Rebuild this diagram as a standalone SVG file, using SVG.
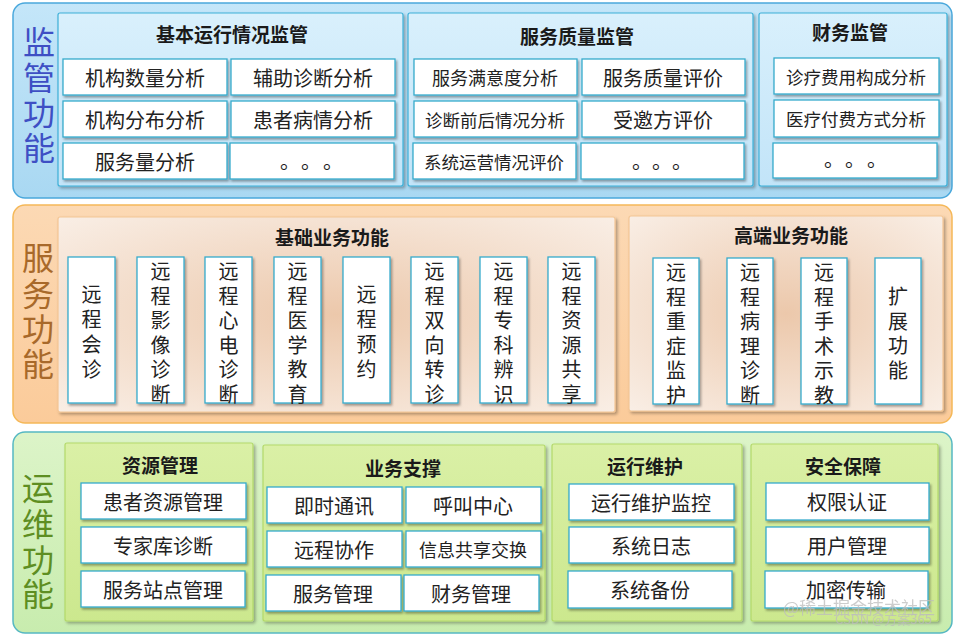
<svg xmlns="http://www.w3.org/2000/svg" width="963" height="636" viewBox="0 0 963 636">
<defs>
<linearGradient id="gBlueBand" x1="0" y1="0" x2="0" y2="1"><stop offset="0" stop-color="#c4e6f9"/><stop offset="1" stop-color="#a9d8f2"/></linearGradient>
<linearGradient id="gBluePanel" x1="0" y1="0" x2="0" y2="1"><stop offset="0" stop-color="#d9f0fc"/><stop offset="1" stop-color="#c2e4f8"/></linearGradient>
<linearGradient id="gOrangeBand" x1="0" y1="0" x2="0" y2="1"><stop offset="0" stop-color="#fcd9b4"/><stop offset="1" stop-color="#fbcb9a"/></linearGradient>
<radialGradient id="gOrangePanel" cx="0.5" cy="0.5" r="0.7"><stop offset="0" stop-color="#ecc8ab"/><stop offset="1" stop-color="#f9eee5"/></radialGradient>
<linearGradient id="gGreenBand" x1="0" y1="0" x2="0" y2="1"><stop offset="0" stop-color="#dcf4c8"/><stop offset="1" stop-color="#c8ecae"/></linearGradient>
<linearGradient id="gGreenPanel" x1="0" y1="0" x2="0" y2="1"><stop offset="0" stop-color="#daf0a6"/><stop offset="1" stop-color="#cce88e"/></linearGradient>
<filter id="sh" x="-10%" y="-10%" width="130%" height="140%"><feDropShadow dx="1.5" dy="2" stdDeviation="1.2" flood-color="#000" flood-opacity="0.35"/></filter>
<filter id="shp" x="-5%" y="-5%" width="115%" height="115%"><feDropShadow dx="2" dy="2" stdDeviation="1.5" flood-color="#000" flood-opacity="0.3"/></filter>
</defs>
<style>
text{font-family:"Noto Sans CJK SC","Noto Sans",sans-serif;dominant-baseline:central;text-anchor:middle;fill:#222}
.box{fill:#fff;stroke:#36abcc;stroke-width:1.3;filter:url(#sh)}
.bandB{fill:url(#gBlueBand);stroke:#4aa8dc;stroke-width:1.5}
.bandO{fill:url(#gOrangeBand);stroke:#f5b858;stroke-width:1.5}
.bandG{fill:url(#gGreenBand);stroke:#56b8c2;stroke-width:1.5}
.pB{fill:url(#gBluePanel);stroke:#3cb0d8;stroke-width:1.2;filter:url(#shp)}
.pO{fill:url(#gOrangePanel);stroke:#f3c594;stroke-width:1.2;filter:url(#shp)}
.pG{fill:url(#gGreenPanel);stroke:#b3d96a;stroke-width:1.2;filter:url(#shp)}
.t{font-size:19px;font-weight:bold;fill:#1a1a1a}
.b20{font-size:20px}
.b18{font-size:18px}
.b17{font-size:17.5px}
.dots{font-size:20px;text-anchor:start;text-spacing-trim:space-all}
.v{font-size:20px}
.lab{font-size:32px}
.labB{fill:#3e4fc4}
.labO{fill:#a8692a}
.labG{fill:#5e8e22}
.wm{fill:#bdbdbd;opacity:0.75;text-anchor:start}
</style>

<!-- ========== Band 1: 监管功能 ========== -->
<g id="band-supervision">
<rect class="bandB" x="13" y="3" width="939" height="195" rx="12"/>
<text class="lab labB"><tspan x="39" y="40">监</tspan><tspan x="39" y="76">管</tspan><tspan x="39" y="111">功</tspan><tspan x="39" y="146">能</tspan></text>
</g>

<g id="panel-basic-ops">
<rect class="pB" x="58" y="13" width="345" height="173" rx="2"/>
<text class="t" x="232" y="33">基本运行情况监管</text>
<rect class="box" x="63" y="59" width="164" height="36"/><text class="b20" x="145" y="77">机构数量分析</text>
<rect class="box" x="231" y="59" width="164" height="36"/><text class="b20" x="313" y="77">辅助诊断分析</text>
<rect class="box" x="63" y="101" width="164" height="36"/><text class="b20" x="145" y="119">机构分布分析</text>
<rect class="box" x="231" y="101" width="164" height="36"/><text class="b20" x="313" y="119">患者病情分析</text>
<rect class="box" x="63" y="143" width="164" height="36"/><text class="b20" x="145" y="161">服务量分析</text>
<rect class="box" x="230" y="143" width="164" height="36"/><text class="dots" y="160"><tspan x="280">。</tspan><tspan x="301">。</tspan><tspan x="323">。</tspan></text>
</g>

<g id="panel-service-quality">
<rect class="pB" x="408" y="13" width="345" height="173" rx="2"/>
<text class="t" x="577" y="35">服务质量监管</text>
<rect class="box" x="414" y="59" width="163" height="36"/><text class="b18" x="495" y="77">服务满意度分析</text>
<rect class="box" x="582" y="59" width="163" height="36"/><text class="b20" x="663" y="77">服务质量评价</text>
<rect class="box" x="414" y="101" width="163" height="36"/><text class="b17" x="495" y="119">诊断前后情况分析</text>
<rect class="box" x="582" y="101" width="163" height="36"/><text class="b20" x="663" y="119">受邀方评价</text>
<rect class="box" x="413" y="143" width="163" height="36"/><text class="b17" x="494" y="161">系统运营情况评价</text>
<rect class="box" x="581" y="143" width="163" height="36"/><text class="dots" y="160"><tspan x="632">。</tspan><tspan x="652">。</tspan><tspan x="672">。</tspan></text>
</g>

<g id="panel-finance">
<rect class="pB" x="759" y="13" width="188" height="173" rx="2"/>
<text class="t" x="850" y="31">财务监管</text>
<rect class="box" x="774" y="58" width="165" height="36"/><text class="b17" x="856" y="76">诊疗费用构成分析</text>
<rect class="box" x="774" y="100" width="165" height="37"/><text class="b17" x="856" y="118">医疗付费方式分析</text>
<rect class="box" x="773" y="143" width="164" height="35"/><text class="dots" y="158"><tspan x="824">。</tspan><tspan x="845">。</tspan><tspan x="867">。</tspan></text>
</g>

<!-- ========== Band 2: 服务功能 ========== -->
<g id="band-service">
<rect class="bandO" x="13" y="205" width="939" height="218" rx="12"/>
<text class="lab labO"><tspan x="38" y="256">服</tspan><tspan x="38" y="292">务</tspan><tspan x="38" y="327">功</tspan><tspan x="38" y="362">能</tspan></text>
</g>

<g id="panel-basic-business">
<rect class="pO" x="58" y="217" width="557" height="195" rx="2"/>
<text class="t" x="332" y="236">基础业务功能</text>
<rect class="box" x="68" y="257" width="47" height="146"/>
<text class="v"><tspan x="91.5" y="293">远</tspan><tspan x="91.5" y="318">程</tspan><tspan x="91.5" y="343">会</tspan><tspan x="91.5" y="368">诊</tspan></text>
<rect class="box" x="137" y="257" width="47" height="146"/>
<text class="v"><tspan x="160.5" y="270">远</tspan><tspan x="160.5" y="294.6">程</tspan><tspan x="160.5" y="319.2">影</tspan><tspan x="160.5" y="343.8">像</tspan><tspan x="160.5" y="368.4">诊</tspan><tspan x="160.5" y="393">断</tspan></text>
<rect class="box" x="205" y="257" width="47" height="146"/>
<text class="v"><tspan x="228.5" y="270">远</tspan><tspan x="228.5" y="294.6">程</tspan><tspan x="228.5" y="319.2">心</tspan><tspan x="228.5" y="343.8">电</tspan><tspan x="228.5" y="368.4">诊</tspan><tspan x="228.5" y="393">断</tspan></text>
<rect class="box" x="274" y="257" width="47" height="146"/>
<text class="v"><tspan x="297.5" y="270">远</tspan><tspan x="297.5" y="294.6">程</tspan><tspan x="297.5" y="319.2">医</tspan><tspan x="297.5" y="343.8">学</tspan><tspan x="297.5" y="368.4">教</tspan><tspan x="297.5" y="393">育</tspan></text>
<rect class="box" x="343" y="257" width="47" height="146"/>
<text class="v"><tspan x="366.5" y="293">远</tspan><tspan x="366.5" y="318">程</tspan><tspan x="366.5" y="343">预</tspan><tspan x="366.5" y="368">约</tspan></text>
<rect class="box" x="411" y="257" width="47" height="146"/>
<text class="v"><tspan x="434.5" y="270">远</tspan><tspan x="434.5" y="294.6">程</tspan><tspan x="434.5" y="319.2">双</tspan><tspan x="434.5" y="343.8">向</tspan><tspan x="434.5" y="368.4">转</tspan><tspan x="434.5" y="393">诊</tspan></text>
<rect class="box" x="480" y="257" width="47" height="146"/>
<text class="v"><tspan x="503.5" y="270">远</tspan><tspan x="503.5" y="294.6">程</tspan><tspan x="503.5" y="319.2">专</tspan><tspan x="503.5" y="343.8">科</tspan><tspan x="503.5" y="368.4">辨</tspan><tspan x="503.5" y="393">识</tspan></text>
<rect class="box" x="548" y="257" width="47" height="146"/>
<text class="v"><tspan x="571.5" y="270">远</tspan><tspan x="571.5" y="294.6">程</tspan><tspan x="571.5" y="319.2">资</tspan><tspan x="571.5" y="343.8">源</tspan><tspan x="571.5" y="368.4">共</tspan><tspan x="571.5" y="393">享</tspan></text>
</g>

<g id="panel-advanced-business">
<rect class="pO" x="629" y="216" width="314" height="195" rx="2"/>
<text class="t" x="791" y="234">高端业务功能</text>
<rect class="box" x="653" y="258" width="46" height="146"/>
<text class="v"><tspan x="676" y="271">远</tspan><tspan x="676" y="295.6">程</tspan><tspan x="676" y="320.2">重</tspan><tspan x="676" y="344.8">症</tspan><tspan x="676" y="369.4">监</tspan><tspan x="676" y="394">护</tspan></text>
<rect class="box" x="727" y="258" width="46" height="146"/>
<text class="v"><tspan x="750" y="271">远</tspan><tspan x="750" y="295.6">程</tspan><tspan x="750" y="320.2">病</tspan><tspan x="750" y="344.8">理</tspan><tspan x="750" y="369.4">诊</tspan><tspan x="750" y="394">断</tspan></text>
<rect class="box" x="801" y="258" width="46" height="146"/>
<text class="v"><tspan x="824" y="271">远</tspan><tspan x="824" y="295.6">程</tspan><tspan x="824" y="320.2">手</tspan><tspan x="824" y="344.8">术</tspan><tspan x="824" y="369.4">示</tspan><tspan x="824" y="394">教</tspan></text>
<rect class="box" x="875" y="258" width="46" height="146"/>
<text class="v"><tspan x="898" y="295">扩</tspan><tspan x="898" y="320">展</tspan><tspan x="898" y="344">功</tspan><tspan x="898" y="369">能</tspan></text>
</g>

<!-- ========== Band 3: 运维功能 ========== -->
<g id="band-operations">
<rect class="bandG" x="13" y="432" width="939" height="201" rx="12"/>
<text class="lab labG"><tspan x="38" y="486">运</tspan><tspan x="38" y="522">维</tspan><tspan x="38" y="558">功</tspan><tspan x="38" y="592">能</tspan></text>
</g>

<g id="panel-resource">
<rect class="pG" x="65" y="443" width="188" height="178" rx="2"/>
<text class="t" x="160" y="464">资源管理</text>
<rect class="box" x="81" y="483" width="165" height="36"/><text class="b20" x="163" y="501">患者资源管理</text>
<rect class="box" x="81" y="527" width="165" height="36"/><text class="b20" x="163" y="545">专家库诊断</text>
<rect class="box" x="81" y="571" width="164" height="36"/><text class="b20" x="163" y="589">服务站点管理</text>
</g>

<g id="panel-business-support">
<rect class="pG" x="263" y="445" width="282" height="176" rx="2"/>
<text class="t" x="403" y="467">业务支撑</text>
<rect class="box" x="267" y="487" width="135" height="36"/><text class="b20" x="334" y="505">即时通讯</text>
<rect class="box" x="406" y="487" width="135" height="36"/><text class="b20" x="473" y="505">呼叫中心</text>
<rect class="box" x="267" y="531" width="135" height="36"/><text class="b20" x="334" y="549">远程协作</text>
<rect class="box" x="406" y="531" width="135" height="36"/><text class="b18" x="473" y="549">信息共享交换</text>
<rect class="box" x="266" y="575" width="135" height="36"/><text class="b20" x="333" y="593">服务管理</text>
<rect class="box" x="404" y="575" width="135" height="36"/><text class="b20" x="471" y="593">财务管理</text>
</g>

<g id="panel-maintenance">
<rect class="pG" x="552" y="444" width="190" height="177" rx="2"/>
<text class="t" x="645" y="465">运行维护</text>
<rect class="box" x="569" y="484" width="165" height="36"/><text class="b20" x="651" y="502">运行维护监控</text>
<rect class="box" x="569" y="527" width="165" height="36"/><text class="b20" x="651" y="545">系统日志</text>
<rect class="box" x="568" y="571" width="164" height="37"/><text class="b20" x="650" y="589">系统备份</text>
</g>

<g id="panel-security">
<rect class="pG" x="751" y="444" width="187" height="177" rx="2"/>
<text class="t" x="843" y="465">安全保障</text>
<rect class="box" x="766" y="483" width="163" height="37"/><text class="b20" x="847" y="501">权限认证</text>
<rect class="box" x="766" y="527" width="163" height="36"/><text class="b20" x="847" y="545">用户管理</text>
<rect class="box" x="765" y="571" width="163" height="37"/><text class="b20" x="846" y="589">加密传输</text>
</g>

<g id="connectors"></g>

<g id="watermark">
<text class="wm" x="783" y="606" style="font-size:17px">@稀土掘金技术社区</text>
<text class="wm" x="835" y="618" style="font-size:13px">CSDN @方案365</text>
</g>
</svg>
